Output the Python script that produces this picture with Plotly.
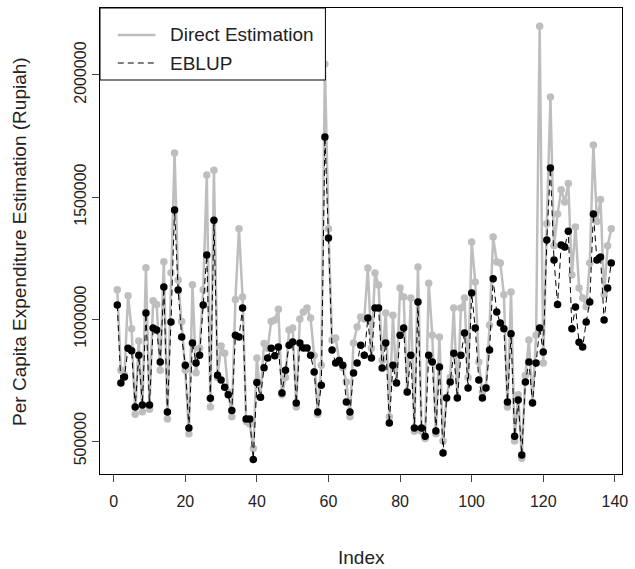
import plotly.graph_objects as go

index = list(range(1, 140))

# EBLUP estimates (thousand Rupiah)
eblup_k = [1057, 738, 762, 880, 870, 640, 852, 648, 1025, 648,
           963, 955, 824, 1131, 619, 988, 1447, 1119, 926, 811,
           553, 902, 820, 852, 1057, 1262, 675, 1405, 770, 750,
           720, 690, 625, 934, 926, 1045, 590, 590, 424, 740,
           680, 800, 840, 880, 850, 885, 697, 790, 893, 906,
           656, 902, 881, 881, 852, 783, 619, 729, 1746, 1332,
           873, 820, 830, 811, 660, 619, 779, 820, 893, 852,
           1004, 840, 1045, 1045, 799, 902, 574, 811, 738, 934,
           963, 701, 852, 553, 1070, 553, 520, 852, 824, 541,
           803, 451, 676, 742, 860, 676, 852, 943, 717, 1107,
           963, 750, 676, 717, 873, 1165, 1029, 984, 960, 660,
           940, 520, 668, 443, 742, 824, 656, 820, 963, 865,
           1324, 1619, 1242, 1060, 1303, 1295, 1360, 960, 1049, 905,
           885, 988, 1070, 1430, 1242, 1254, 996, 1127, 1230]

# Direct estimates (thousand Rupiah)
direct_k = [1120, 790, 770, 1095, 960, 610, 910, 620, 1210, 630,
            1075, 1060, 790, 1235, 590, 1190, 1680, 1160, 990, 790,
            530, 1140, 780, 880, 1120, 1590, 640, 1610, 760, 890,
            860, 700, 600, 1080, 1370, 1090, 580, 570, 470, 840,
            680, 900, 880, 990, 996, 1040, 690, 760, 955, 963,
            640, 1000, 1029, 1045, 1004, 850, 610, 811, 2045, 1370,
            914, 922, 830, 800, 742, 600, 902, 967, 1008, 1000,
            1209, 880, 1189, 1139, 830, 1025, 600, 1016, 740, 1127,
            1090, 700, 1086, 540, 1213, 540, 510, 1147, 934, 530,
            926, 500, 680, 760, 1045, 680, 1045, 1086, 760, 1316,
            1152, 824, 700, 720, 975, 1336, 1234, 1230, 1100, 640,
            1111, 500, 690, 430, 770, 914, 660, 934, 2200, 820,
            1390, 1910, 1300, 1430, 1530, 1480, 1555, 1180, 1377, 1127,
            1086, 1050, 1230, 1713, 1400, 1490, 1100, 1300, 1370]

eblup = [v * 1000 for v in eblup_k]
direct = [v * 1000 for v in direct_k]

x_ticks = [0, 20, 40, 60, 80, 100, 120, 140]
y_ticks = [500000, 1000000, 1500000, 2000000]
legend_labels = ["Direct Estimation", "EBLUP"]

FONT = "Liberation Sans, Arial, sans-serif"
TXT = "#222222"
GRAY = "#BEBEBE"
DASH = "6px,4px"

# plot box in pixels: left 100, right 628, top 8, bottom 474
PW, PH = 528.0, 466.0

fig = go.Figure()
fig.add_trace(go.Scatter(
    x=index, y=direct, mode="lines+markers", showlegend=False,
    line=dict(color=GRAY, width=2.5),
    marker=dict(color=GRAY, size=7.5),
))
fig.add_trace(go.Scatter(
    x=index, y=eblup, mode="lines+markers", showlegend=False,
    line=dict(color="black", width=1, dash=DASH),
    marker=dict(color="black", size=7.5),
))

# legend box drawn like R's legend()
shapes = [dict(type="rect", xref="paper", yref="paper",
               x0=0, x1=228 / PW, y0=1 - 72 / PH, y1=1,
               line=dict(color="black", width=1), fillcolor="white", layer="above")]
annotations = []
styles = [dict(color=GRAY, width=2.5), dict(color="black", width=1, dash=DASH)]
for k, (lab, st) in enumerate(zip(legend_labels, styles)):
    yy = 1 - (27 + 28 * k) / PH
    shapes.append(dict(type="line", xref="paper", yref="paper",
                       x0=18 / PW, x1=56 / PW, y0=yy, y1=yy, line=st, layer="above"))
    annotations.append(dict(text=lab, xref="paper", yref="paper",
                            x=69 / PW, y=yy, xanchor="left", yanchor="middle",
                            showarrow=False, font=dict(size=19, color=TXT)))

annotations.append(dict(text="Index", xref="paper", yref="paper",
                        x=0.5, y=-(557 - 474) / PH, xanchor="center", yanchor="middle",
                        showarrow=False, font=dict(size=19, color=TXT)))
annotations.append(dict(text="Per Capita Expenditure Estimation (Rupiah)",
                        xref="paper", yref="paper", textangle=-90,
                        x=-(100 - 18) / PW, y=0.5, xanchor="center", yanchor="middle",
                        showarrow=False, font=dict(size=19, color=TXT)))

fig.update_layout(
    width=635, height=569,
    margin=dict(l=100, r=7, t=8, b=95),
    paper_bgcolor="white", plot_bgcolor="white",
    font=dict(family=FONT, size=16, color=TXT),
    showlegend=False,
    shapes=shapes, annotations=annotations,
    xaxis=dict(range=[-3.83, 142.0], tickvals=x_ticks, ticks="outside",
               ticklen=7, ticklabelstandoff=6, showgrid=False, zeroline=False,
               showline=True, linecolor="black", linewidth=1, mirror=True),
    yaxis=dict(range=[365000, 2274500], tickvals=y_ticks,
               ticktext=[str(v) for v in y_ticks], tickangle=-90,
               ticks="outside", ticklen=7, showgrid=False, zeroline=False,
               showline=True, linecolor="black", linewidth=1, mirror=True),
)

fig.write_html("out.html")
